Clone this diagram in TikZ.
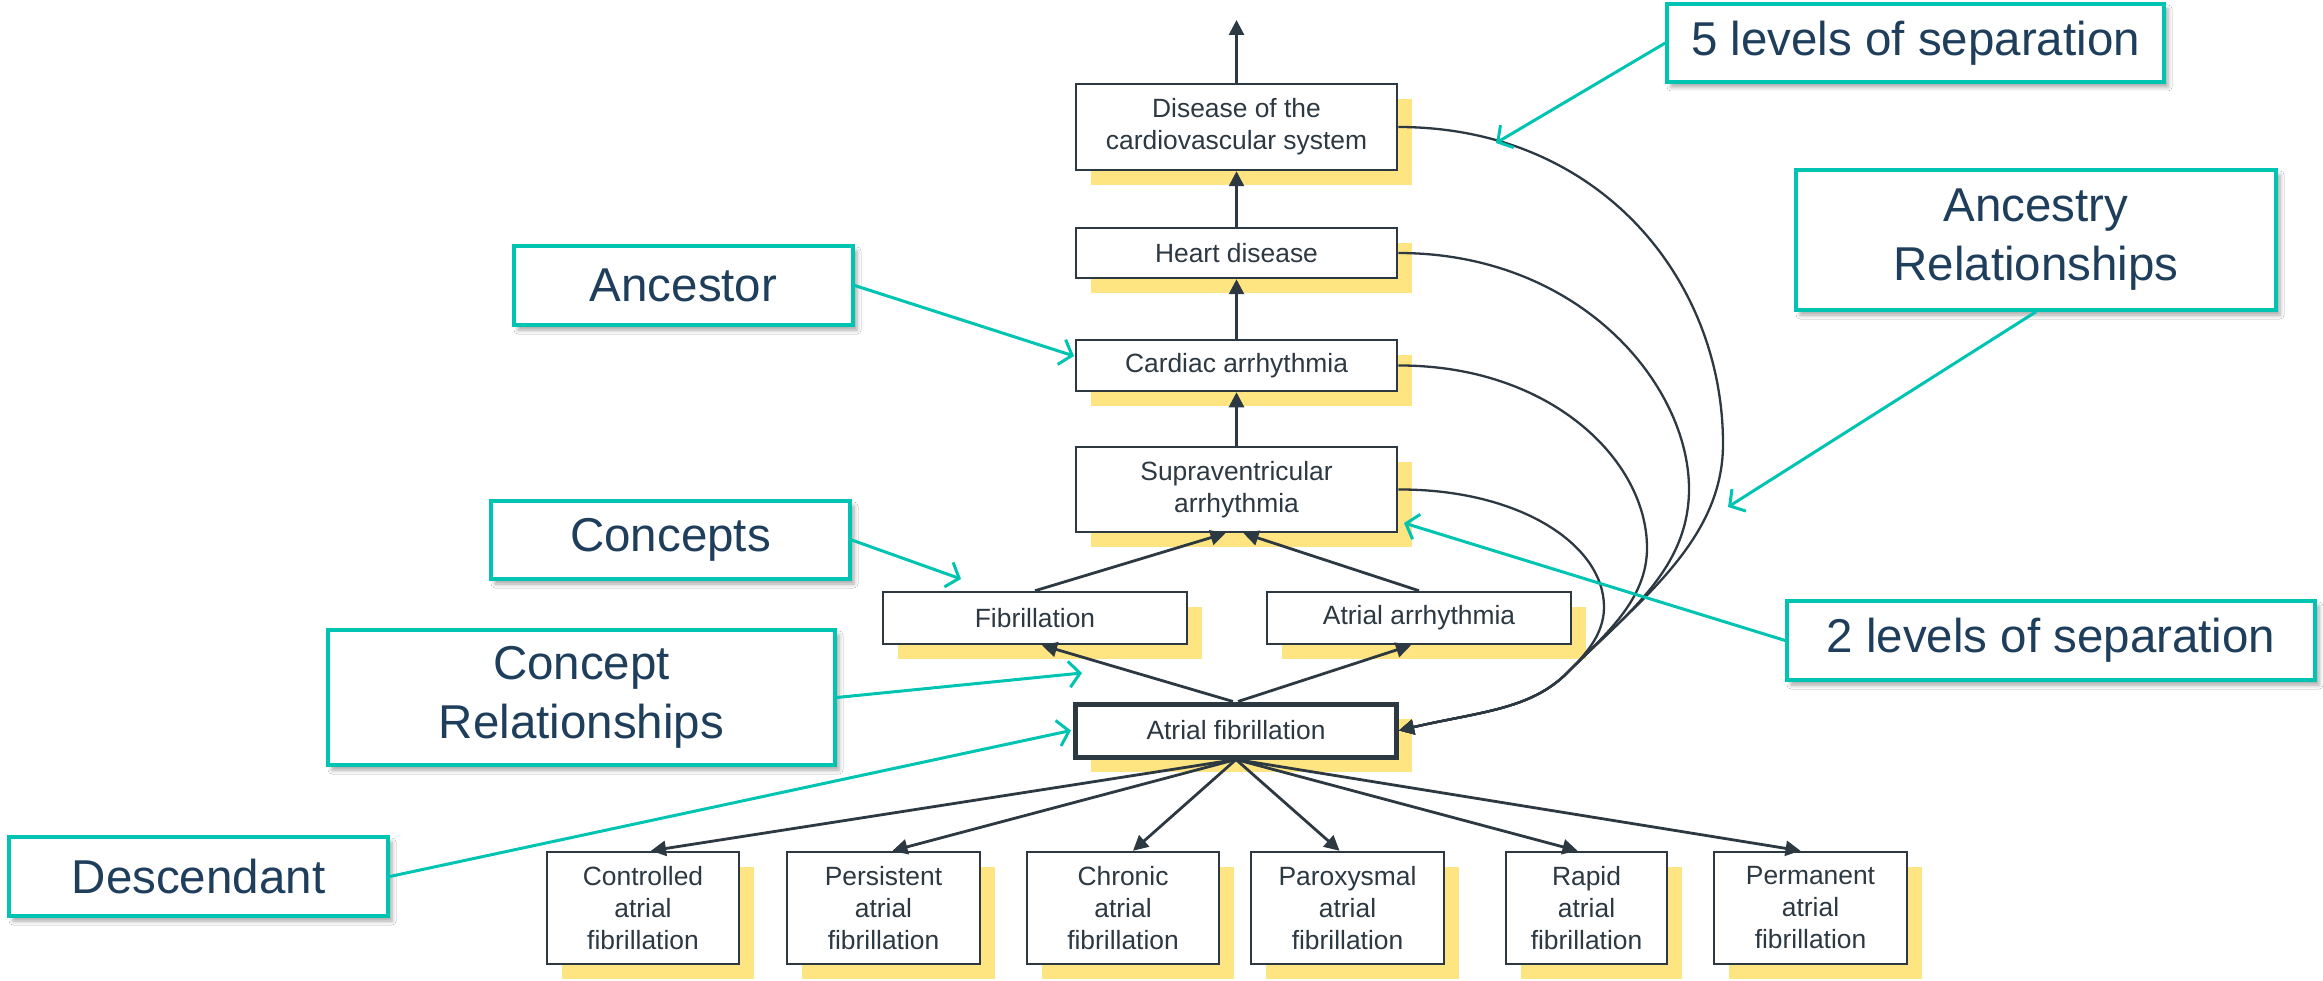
\documentclass[tikz,border=0pt]{standalone}
\usepackage{fontspec}
\setmainfont{Liberation Sans}
\usetikzlibrary{arrows.meta,shadows,shadows.blur,calc}
\definecolor{boxc}{RGB}{44,56,66}
\definecolor{tealc}{RGB}{0,196,178}
\definecolor{navyc}{RGB}{30,62,92}
\definecolor{ylwc}{RGB}{255,228,130}
\begin{document}
\begin{tikzpicture}[x=1pt,y=-1pt,
  concept/.style={draw=boxc, line width=2.5pt, fill=white, inner sep=0pt, align=center,
    text=boxc, font=\fontsize{26.4}{32}\selectfont,
    general shadow={fill=ylwc, shadow xshift=15pt, shadow yshift=-15pt}},
  callout/.style={draw=tealc, line width=3.5pt, fill=white, inner sep=0pt, align=center,
    text=navyc, font=\fontsize{47.5}{59}\selectfont,
    blur shadow={shadow xshift=4pt, shadow yshift=-5pt, shadow blur radius=4pt, shadow opacity=35}},
  isa/.style={draw=boxc, line width=2.8pt, -{Triangle[length=15pt,width=15pt]}},
  curv/.style={draw=boxc, line width=2.3pt, -{Triangle[length=15pt,width=15pt]}},
  pointer/.style={draw=tealc, line width=3pt, -{Straight Barb[length=11pt,width=26pt,line width=3pt]}}
]
\useasboundingbox[fill=white] (0,0) rectangle (2323,981);

% concept boxes
\node[concept, minimum width=321pt, minimum height=86pt] (dis) at (1236.5,127) {Disease of the\\cardiovascular system};
\node[concept, minimum width=321pt, minimum height=50pt] (heart) at (1236.5,253) {Heart disease};
\node[concept, minimum width=321pt, minimum height=51pt] (card) at (1236.5,365.5) {Cardiac arrhythmia};
\node[concept, minimum width=321pt, minimum height=85pt] (supra) at (1236.5,489.5) {Supraventricular\\arrhythmia};
\node[concept, minimum width=304pt, minimum height=52pt] (fib) at (1035,618) {Fibrillation};
\node[concept, minimum width=304pt, minimum height=52pt] (aa) at (1419,618) {Atrial arrhythmia};
\node[concept, line width=5pt, minimum width=321pt, minimum height=53pt] (af) at (1236,730.5) {Atrial fibrillation};

\node[concept, minimum width=192pt, minimum height=112pt] (ctl) at (643,908) {Controlled\\atrial\\fibrillation};
\node[concept, minimum width=193pt, minimum height=112pt] (per) at (883.5,908) {Persistent\\atrial\\fibrillation};
\node[concept, minimum width=192pt, minimum height=112pt] (chr) at (1123,908) {Chronic\\atrial\\fibrillation};
\node[concept, minimum width=193pt, minimum height=112pt] (par) at (1347.5,908) {Paroxysmal\\atrial\\fibrillation};
\node[concept, minimum width=161pt, minimum height=112pt] (rap) at (1586.5,908) {Rapid\\atrial\\fibrillation};
\node[concept, minimum width=193pt, minimum height=112pt] (prm) at (1810.5,908) {Permanent\\atrial\\fibrillation};

% hierarchy arrows
\coordinate (topend) at (1236.5,20);
\draw[isa] (dis) -- (topend);
\draw[isa] (heart) -- (dis);
\draw[isa] (card) -- (heart);
\draw[isa] (supra) -- (card);
\draw[isa] (fib.north) -- ($(supra.south)+(-11,0)$);
\draw[isa] (aa.north) -- ($(supra.south)+(7,0)$);
\draw[isa] ($(af.north)+(-3,0)$) -- ($(fib.south)+(7,0)$);
\draw[isa] ($(af.north)+(2,0)$) -- ($(aa.south)+(-8,0)$);
\draw[isa] (af.south) -- ($(ctl.north)+(8,0)$);
\draw[isa] (af.south) -- ($(per.north)+(9,0)$);
\draw[isa] (af.south) -- ($(chr.north)+(10,0)$);
\draw[isa] (af.south) -- ($(par.north)+(-8,0)$);
\draw[isa] (af.south) -- ($(rap.north)+(-9,0)$);
\draw[isa] (af.south) -- ($(prm.north)+(-10,0)$);

% ancestry curves (merge before reaching Atrial fibrillation)
\coordinate (merge) at (1567,673);
\draw[curv] (dis.east) .. controls (1600,127) and (1723,280) .. (1723,444)
  .. controls (1723,540) and (1640,600) .. (merge)
  .. controls (1530,710) and (1478,712) .. (af.east);
\draw[curv] (heart.east) .. controls (1580,253) and (1689,385) .. (1689,489)
  .. controls (1689,570) and (1625,615) .. (merge)
  .. controls (1530,710) and (1478,712) .. (af.east);
\draw[curv] (card.east) .. controls (1550,365) and (1647,460) .. (1647,548)
  .. controls (1647,600) and (1605,635) .. (merge)
  .. controls (1530,710) and (1478,712) .. (af.east);
\draw[curv] (supra.east) .. controls (1520,489) and (1604,545) .. (1604,607)
  .. controls (1604,635) and (1585,655) .. (merge)
  .. controls (1530,710) and (1478,712) .. (af.east);

% callouts
\node[callout, minimum width=497pt, minimum height=78pt] (five) at (1915.5,43) {5 levels of separation};
\node[callout, minimum width=480pt, minimum height=140pt] (ancestry) at (2036,240) {Ancestry\\Relationships};
\node[callout, minimum width=528pt, minimum height=79pt] (two) at (2051,640.5) {2 levels of separation};
\node[callout, minimum width=339pt, minimum height=79pt] (ancestor) at (683.5,285.5) {Ancestor};
\node[callout, minimum width=359pt, minimum height=78pt] (concepts) at (670.5,540) {Concepts};
\node[callout, minimum width=507pt, minimum height=135pt] (crel) at (581.5,697.5) {Concept\\Relationships};
\node[callout, minimum width=379pt, minimum height=79pt] (desc) at (198.5,876.5) {Descendant};

% pointers
\coordinate (t5) at (1496,143);
\coordinate (tanc) at (1728,507);
\coordinate (t2) at (1404,523);
\coordinate (ta) at (1074,356);
\coordinate (tc) at (961,579);
\coordinate (tcr) at (1082,673);
\draw[pointer] (five.west) -- (t5);
\draw[pointer] (ancestry.south) -- (tanc);
\draw[pointer] (two.west) -- (t2);
\draw[pointer] (ancestor.east) -- (ta);
\draw[pointer] (concepts.east) -- (tc);
\draw[pointer] (crel.east) -- (tcr);
\draw[pointer] (desc.east) -- ($(af.west)+(-2,0)$);
\end{tikzpicture}
\end{document}
